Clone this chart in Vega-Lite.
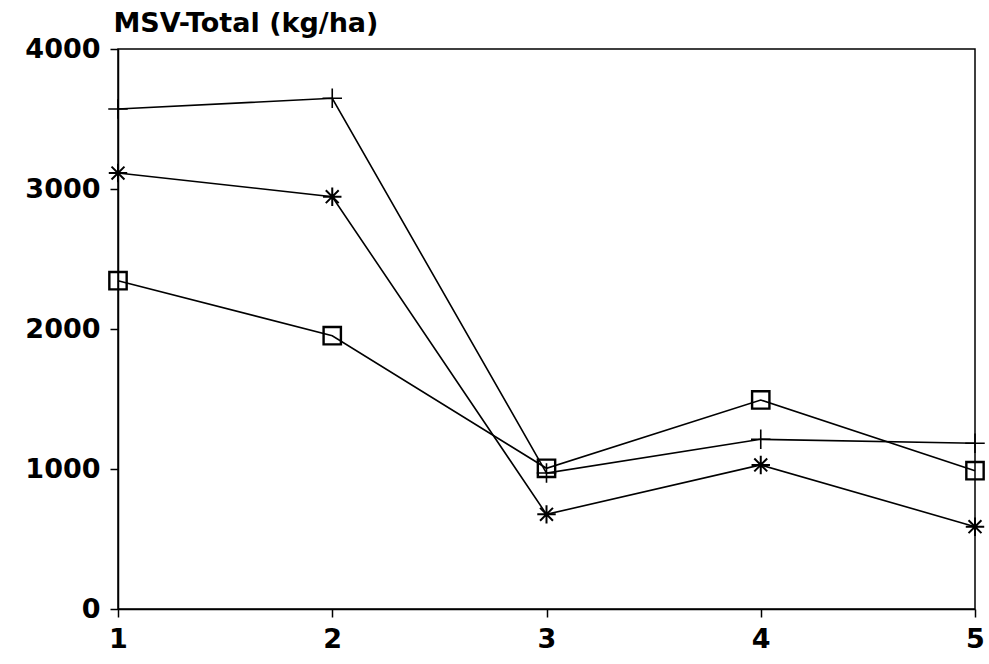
{
  "$schema": "https://vega.github.io/schema/vega-lite/v6.json",
  "autosize": {"type": "none"},
  "padding": {"left": 118, "top": 49, "right": 14, "bottom": 55},
  "width": 857,
  "height": 560,
  "background": "white",
  "config": {
    "view": {"stroke": "black", "strokeWidth": 1.5},
    "font": "DejaVu Sans"
  },
  "data": {
    "values": [
      {"x": 1, "series": "A", "v": 3571},
      {"x": 2, "series": "A", "v": 3648},
      {"x": 3, "series": "A", "v": 971},
      {"x": 4, "series": "A", "v": 1212},
      {"x": 5, "series": "A", "v": 1184},
      {"x": 1, "series": "B", "v": 3114},
      {"x": 2, "series": "B", "v": 2945},
      {"x": 3, "series": "B", "v": 676},
      {"x": 4, "series": "B", "v": 1029},
      {"x": 5, "series": "B", "v": 588},
      {"x": 1, "series": "C", "v": 2345},
      {"x": 2, "series": "C", "v": 1952},
      {"x": 3, "series": "C", "v": 1005},
      {"x": 4, "series": "C", "v": 1493},
      {"x": 5, "series": "C", "v": 988}
    ]
  },
  "encoding": {
    "x": {
      "field": "x", "type": "quantitative",
      "scale": {"domain": [1, 5], "nice": false, "zero": false},
      "axis": {
        "values": [1, 2, 3, 4, 5], "title": null, "grid": false, "format": "d",
        "domainColor": "black", "domainWidth": 1.5,
        "tickColor": "black", "tickSize": 8, "tickWidth": 1.5,
        "labelFont": "DejaVu Sans", "labelFontSize": 27, "labelFontWeight": "bold",
        "labelColor": "black", "labelPadding": 9, "labelFlush": false
      }
    },
    "y": {
      "field": "v", "type": "quantitative",
      "scale": {"domain": [0, 4000], "nice": false},
      "axis": {
        "values": [0, 1000, 2000, 3000, 4000], "grid": false, "format": "d",
        "domainColor": "black", "domainWidth": 1.5,
        "tickColor": "black", "tickSize": 8, "tickWidth": 1.5,
        "labelFont": "DejaVu Sans", "labelFontSize": 27, "labelFontWeight": "bold",
        "labelColor": "black", "labelPadding": 10,
        "title": "MSV-Total (kg/ha)",
        "titleAngle": 0, "titleAlign": "left", "titleBaseline": "middle",
        "titleX": -5, "titleY": -26,
        "titleFont": "DejaVu Sans", "titleFontSize": 27, "titleFontWeight": "bold",
        "titleColor": "black"
      }
    }
  },
  "layer": [
    {
      "mark": {"type": "line", "color": "black", "strokeWidth": 1.6},
      "encoding": {"detail": {"field": "series"}}
    },
    {
      "mark": {"type": "point", "filled": false, "stroke": "black", "opacity": 1},
      "encoding": {
        "shape": {
          "field": "series", "type": "nominal", "legend": null,
          "scale": {
            "domain": ["A", "B", "C"],
            "range": [
              "M-1,0H1M0,-1V1",
              "M-1,0H1M0,-1V1M-0.7,-0.7L0.7,0.7M-0.7,0.7L0.7,-0.7",
              "square"
            ]
          }
        },
        "size": {
          "field": "series", "type": "nominal", "legend": null,
          "scale": {"domain": ["A", "B", "C"], "range": [380, 300, 150]}
        },
        "strokeWidth": {
          "field": "series", "type": "nominal", "legend": null,
          "scale": {"domain": ["A", "B", "C"], "range": [1.6, 2.4, 1.8]}
        }
      }
    }
  ]
}
